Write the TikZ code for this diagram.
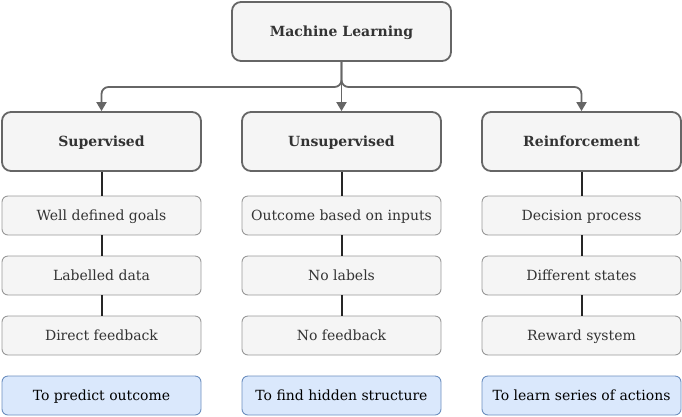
\documentclass[tikz,border=0pt]{standalone}
\usepackage{fontspec}
\setmainfont{DejaVu Serif}
\usetikzlibrary{arrows.meta}
\definecolor{boxfill}{HTML}{F5F5F5}
\definecolor{boxline}{HTML}{666666}
\definecolor{itemline}{HTML}{999999}
\definecolor{txt}{HTML}{333333}
\definecolor{bluefill}{HTML}{DAE8FC}
\definecolor{blueline}{HTML}{6C8EBF}
\tikzset{
  topbox/.style={draw=boxline, fill=boxfill, line width=1.8pt, rounded corners=9pt,
    minimum width=219pt, minimum height=59pt, inner sep=0pt, text=txt,
    text height=11pt, text depth=1pt,
    font=\fontsize{14}{16}\selectfont\bfseries},
  catbox/.style={topbox, minimum width=199pt},
  itembox/.style={draw=itemline, fill=boxfill, line width=0.9pt, rounded corners=6pt,
    minimum width=199pt, minimum height=39pt, inner sep=0pt, text=txt,
    text height=11pt, text depth=1pt,
    font=\fontsize{14}{16}\selectfont},
  goalbox/.style={itembox, draw=blueline, fill=bluefill, text=black},
  conn/.style={draw=boxline, line width=1.8pt, rounded corners=7pt,
    -{Triangle[width=10pt,length=9pt]}},
  link/.style={draw=black!85, line width=2pt}
}
\begin{document}
\begin{tikzpicture}[x=1pt,y=-1pt]
\useasboundingbox (0,0) rectangle (682,416);
\node[topbox] (ml) at (341.5,31.5) {Machine Learning};
\node[catbox] (sup) at (101.5,141.5) {Supervised};
\node[catbox] (uns) at (341.5,141.5) {Unsupervised};
\node[catbox] (rei) at (581.5,141.5) {Reinforcement};
\coordinate (hub) at (341.5,87);
\draw[conn] (ml.south) -- (hub) -| (sup.north);
\draw[conn] (ml.south) -- (uns.north);
\draw[conn] (ml.south) -- (hub) -| (rei.north);

\node[itembox] (s1) at (101.5,215.5) {Well defined goals};
\node[itembox] (s2) at (101.5,275.5) {Labelled data};
\node[itembox] (s3) at (101.5,335.5) {Direct feedback};
\node[goalbox] (s4) at (101.5,395.5) {To predict outcome};

\node[itembox] (u1) at (341.5,215.5) {Outcome based on inputs};
\node[itembox] (u2) at (341.5,275.5) {No labels};
\node[itembox] (u3) at (341.5,335.5) {No feedback};
\node[goalbox] (u4) at (341.5,395.5) {To find hidden structure};

\node[itembox] (r1) at (581.5,215.5) {Decision process};
\node[itembox] (r2) at (581.5,275.5) {Different states};
\node[itembox] (r3) at (581.5,335.5) {Reward system};
\node[goalbox] (r4) at (581.5,395.5) {To learn series of actions};

\draw[link] (sup.south) -- (s1.north);
\draw[link] (s1.south) -- (s2.north);
\draw[link] (s2.south) -- (s3.north);
\draw[link] (uns.south) -- (u1.north);
\draw[link] (u1.south) -- (u2.north);
\draw[link] (u2.south) -- (u3.north);
\draw[link] (rei.south) -- (r1.north);
\draw[link] (r1.south) -- (r2.north);
\draw[link] (r2.south) -- (r3.north);
\end{tikzpicture}
\end{document}
